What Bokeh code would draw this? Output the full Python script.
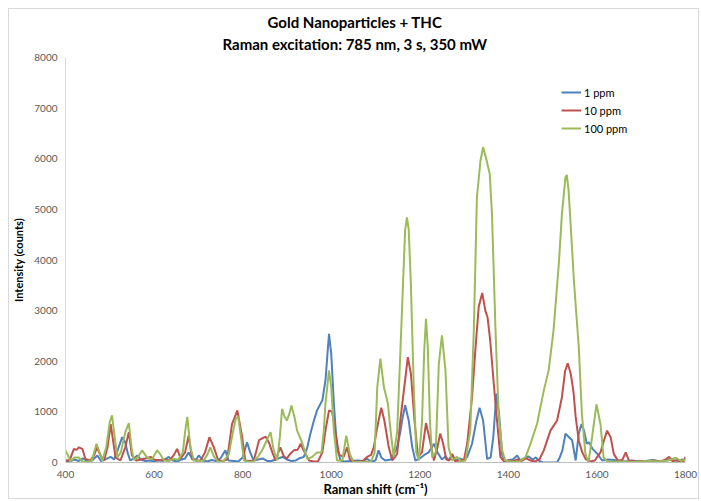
from bokeh.plotting import figure
from bokeh.models import Range1d, FixedTicker, Legend, LegendItem, Title
from bokeh.embed import file_html
from bokeh.resources import INLINE

# ---- data ----
ppm1_x = [400, 410, 420, 430, 440, 450, 460, 472, 480, 490, 502, 510, 518, 528, 535, 540, 546, 555, 562, 570,
          580, 590, 600, 610, 620, 633, 642, 652, 662, 670, 678, 686, 695, 701, 710, 720, 730, 740, 750, 761,
          768, 780, 790, 800, 810, 817, 825, 835, 845, 855, 865, 880, 890, 900, 910, 920, 930, 938, 946, 953,
          960, 968, 980, 987, 995, 1000, 1006, 1013, 1021, 1030, 1045, 1060, 1072, 1081, 1090, 1100, 1107, 1113,
          1122, 1135, 1149, 1156, 1160, 1167, 1175, 1183, 1190, 1200, 1210, 1220, 1232, 1240, 1250, 1258, 1265,
          1273, 1280, 1290, 1300, 1307, 1318, 1328, 1335, 1343, 1352, 1360, 1366, 1373, 1379, 1386, 1393, 1402,
          1410, 1420, 1427, 1435, 1445, 1455, 1462, 1470, 1478, 1490, 1500, 1510, 1516, 1522, 1529, 1537, 1544,
          1552, 1559, 1565, 1571, 1577, 1582, 1590, 1601, 1612, 1625, 1638, 1650, 1665, 1680, 1695, 1710, 1725,
          1740, 1755, 1770, 1778, 1785, 1792, 1800]
ppm1_y = [40, 20, 60, 30, 80, 20, 40, 140, 30, 60, 110, 60, 250, 500, 400, 200, 40, 80, 140, 60,
          30, 40, 20, 50, 30, 110, 40, 20, 60, 80, 200, 70, 60, 140, 40, 20, 50, 30, 80, 240,
          40, 30, 20, 100, 400, 200, 40, 60, 80, 30, 30, 80, 110, 60, 30, 40, 90, 110, 300, 570,
          800, 1030, 1230, 1620, 2540, 2150, 1160, 300, 40, 20, 30, 40, 30, 70, 20, 40, 240, 100,
          40, 60, 300, 600, 830, 1130, 830, 300, 40, 80, 150, 200, 370, 200, 60, 120, 40,
          150, 30, 80, 40, 110, 370, 830, 1080, 830, 70, 100, 500, 1360, 960, 150, 20, 50,
          60, 140, 40, 80, 120, 60, 100, 30, 0, 0, 0, 0, 100, 240, 570, 500, 440,
          40, 570, 760, 630, 370, 400, 270, 170, 40, 60, 50, 30, 20, 40, 20, 30, 50,
          20, 40, 60, 90, 20, 60, 40]

ppm10_x = [400, 410, 419, 425, 430, 438, 445, 456, 465, 471, 479, 487, 495, 502, 508, 513, 524, 535, 543, 550,
           560, 570, 580, 592, 600, 611, 622, 635, 645, 652, 660, 670, 678, 686, 695, 705, 715, 725, 735, 745,
           755, 765, 776, 788, 799, 806, 815, 825, 830, 837, 845, 852, 860, 867, 874, 885, 893, 900, 908, 916,
           924, 931, 937, 942, 950, 960, 970, 980, 987, 995, 1002, 1010, 1018, 1028, 1036, 1042, 1055, 1070,
           1081, 1090, 1096, 1102, 1107, 1113, 1120, 1130, 1138, 1149, 1156, 1165, 1173, 1180, 1188, 1196,
           1205, 1214, 1223, 1232, 1240, 1246, 1252, 1260, 1267, 1273, 1280, 1290, 1300, 1307, 1318, 1326,
           1333, 1341, 1348, 1353, 1359, 1367, 1375, 1382, 1390, 1400, 1410, 1420, 1430, 1440, 1450, 1460,
           1470, 1480, 1495, 1510, 1521, 1528, 1534, 1541, 1547, 1552, 1559, 1567, 1575, 1585, 1595, 1608,
           1616, 1623, 1631, 1638, 1648, 1658, 1665, 1672, 1685, 1700, 1715, 1730, 1745, 1755, 1763, 1770,
           1785, 1795, 1800]
ppm10_y = [30, 60, 270, 250, 300, 270, 70, 40, 150, 300, 140, 40, 300, 760, 400, 100, 40, 300, 600, 140,
           40, 60, 80, 110, 60, 40, 60, 40, 150, 270, 80, 200, 530, 70, 40, 40, 200, 500, 300, 40,
           30, 60, 760, 1030, 500, 40, 30, 40, 200, 440, 480, 510, 380, 200, 40, 300, 120, 80, 180, 240,
           250, 370, 250, 170, 40, 20, 20, 200, 630, 1030, 1000, 570, 150, 110, 300, 60, 20, 20,
           110, 150, 300, 600, 830, 1080, 830, 300, 40, 170, 830, 1490, 2080, 1750, 830, 110,
           200, 780, 430, 40, 300, 570, 400, 60, 40, 170, 30, 40, 60, 370, 1290, 2280,
           3070, 3350, 3000, 2870, 2410, 1560, 770, 110, 20, 40, 20, 60, 30, 80, 40, 20,
           60, 240, 630, 830, 1290, 1800, 1960, 1750, 1400, 900, 430, 200, 60, 20, 40, 200,
           440, 630, 500, 170, 30, 60, 200, 40, 20, 30, 20, 40, 20, 60, 110, 30,
           40, 20, 110]

ppm100_x = [400, 405, 411, 420, 430, 438, 450, 460, 470, 477, 483, 492, 500, 505, 511, 517, 525, 535, 543, 549,
            554, 563, 573, 584, 595, 607, 615, 622, 632, 645, 655, 665, 670, 675, 682, 690, 700, 712, 720, 727,
            735, 746, 758, 769, 778, 785, 790, 797, 803, 815, 825, 835, 844, 855, 863, 870, 878, 884, 889, 895,
            900, 905, 910, 917, 923, 934, 946, 957, 968, 978, 983, 987, 995, 1000, 1006, 1013, 1025, 1034, 1042,
            1050, 1070, 1090, 1098, 1104, 1111, 1119, 1128, 1134, 1141, 1149, 1156, 1162, 1167, 1171, 1175, 1180,
            1186, 1192, 1198, 1205, 1210, 1214, 1218, 1223, 1228, 1236, 1243, 1250, 1258, 1265, 1273, 1284, 1293,
            1303, 1314, 1322, 1329, 1337, 1343, 1350, 1358, 1363, 1371, 1378, 1386, 1393, 1410, 1425, 1439, 1450,
            1465, 1480, 1491, 1502, 1514, 1521, 1529, 1532, 1536, 1542, 1548, 1559, 1566, 1574, 1581, 1589, 1599,
            1608, 1615, 1625, 1650, 1680, 1700, 1720, 1740, 1760, 1778, 1790, 1800]
ppm100_y = [240, 150, 20, 100, 100, 20, 10, 50, 370, 200, 30, 300, 800, 930, 500, 100, 200, 600, 780, 300,
            50, 100, 240, 100, 60, 240, 150, 40, 30, 70, 60, 200, 600, 900, 300, 40, 30, 40, 150, 300,
            120, 0, 40, 170, 600, 880, 900, 450, 40, 10, 20, 120, 240, 450, 600, 250, 40, 500, 1060, 900,
            830, 950, 1125, 900, 630, 400, 70, 110, 200, 200, 600, 1160, 1820, 1490, 630, 40, 40, 530, 170,
            10, 10, 20, 200, 1490, 2050, 1490, 1160, 630, 110, 630, 2150, 3500, 4600, 4840, 4600, 3500,
            1600, 200, 40, 800, 2200, 2840, 2300, 800, 100, 200, 1950, 2510, 1820, 300, 40, 110, 20,
            40, 630, 2610, 5240, 5960, 6230, 6000, 5700, 4910, 2610, 960, 240, 40, 10, 20, 110, 370,
            770, 1420, 1820, 2610, 3930, 4910, 5640, 5680, 5370, 4500, 3590, 2280, 960, 170, 0, 500, 1150,
            760, 100, 10, 20, 10, 20, 30, 20, 40, 90, 30, 60]

series_names = ["1 ppm", "10 ppm", "100 ppm"]
series_colors = ["#4F81BD", "#C0504D", "#9BBB59"]
x_ticks = [400, 600, 800, 1000, 1200, 1400, 1600, 1800]
y_ticks = [0, 1000, 2000, 3000, 4000, 5000, 6000, 7000, 8000]
title_lines = ["Gold Nanoparticles + THC", "Raman excitation: 785 nm, 3 s, 350 mW"]
x_title = "Raman shift (cm⁻¹)"
y_title = "Intensity (counts)"

FONT = "Lato"
TXT = "#595959"

p = figure(width=691, height=491, output_backend="svg", toolbar_location=None,
           x_range=Range1d(400, 1800), y_range=Range1d(0, 8000),
           min_border_left=56, min_border_right=15, min_border_top=48, min_border_bottom=38)
p.styles = {"border": "1px solid #d9d9d9", "margin-left": "8px", "margin-top": "8px"}

p.title.text = title_lines[0]
p.title.align = "left"
p.title.offset = 202
p.title.text_font = FONT
p.title.text_font_size = "15px"
p.title.text_font_style = "bold"
p.title.text_color = "#000000"
p.title.standoff = -5
t2 = Title(text=title_lines[1], align="left", offset=157, text_font=FONT,
           text_font_size="15px", text_font_style="bold", text_color="#000000", standoff=9)
p.add_layout(t2, "above")

p.xgrid.visible = False
p.ygrid.visible = False
p.outline_line_color = None
p.background_fill_color = "white"
p.border_fill_color = "white"

for ax, ticks in ((p.xaxis, x_ticks), (p.yaxis, y_ticks)):
    ax.ticker = FixedTicker(ticks=ticks)
    ax.major_tick_line_color = None
    ax.minor_tick_line_color = None
    ax.major_tick_out = 0
    ax.major_tick_in = 0
    ax.minor_tick_out = 0
    ax.minor_tick_in = 0
    ax.major_label_text_font = FONT
    ax.major_label_text_font_size = "10px"
    ax.major_label_text_color = TXT
    ax.axis_label_text_font = FONT
    ax.axis_label_text_font_style = "bold"
    ax.axis_label_text_color = "#000000"

p.xaxis.axis_line_color = "#bfbfbf"
p.yaxis.axis_line_color = "#d9d9d9"
p.xaxis.axis_label = x_title
p.xaxis.axis_label_text_font_size = "13px"
p.xaxis.major_label_standoff = 8
p.xaxis.axis_label_standoff = 0
p.yaxis.axis_label = y_title
p.yaxis.axis_label_text_font_size = "11px"
p.yaxis.major_label_standoff = 8
p.yaxis.axis_label_standoff = 6

items = []
for xs, ys, name, col in zip((ppm1_x, ppm10_x, ppm100_x), (ppm1_y, ppm10_y, ppm100_y),
                             series_names, series_colors):
    r = p.line(xs, ys, line_color=col, line_width=2)
    items.append(LegendItem(label=name, renderers=[r]))

legend = Legend(items=items, location=(496, 326), margin=0, padding=0, spacing=2,
                glyph_width=20, glyph_height=16, label_standoff=3,
                label_text_font=FONT, label_text_font_size="11px", label_text_color="#000000",
                border_line_color=None, background_fill_alpha=0)
p.add_layout(legend, "center")

open("out.html", "w").write(file_html(p, INLINE))
